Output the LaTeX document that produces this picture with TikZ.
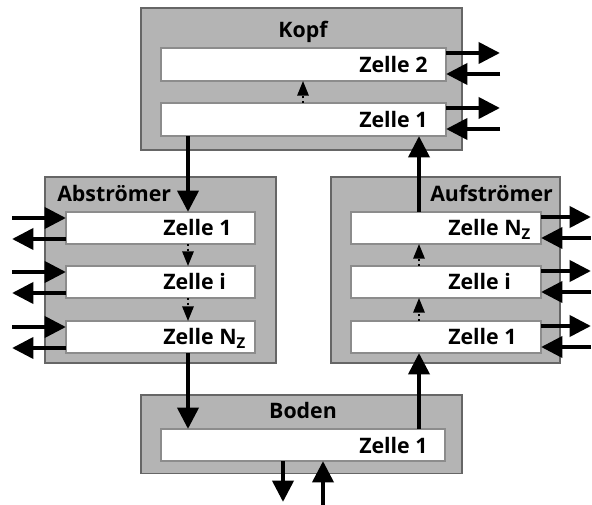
\documentclass[tikz,border=0pt]{standalone}
\usepackage{fontspec}
\setmainfont{Open Sans}
\usetikzlibrary{arrows.meta,calc}
\definecolor{grp}{RGB}{180,180,180}
\begin{document}
\begin{tikzpicture}[x=0.75pt,y=-0.75pt,
  grpbox/.style={draw=black!60, line width=0.8pt, fill=grp, rectangle, anchor=north west, inner sep=0pt, outer sep=0pt},
  cell/.style={draw=black!45, line width=0.9pt, fill=white, rectangle, anchor=north west, inner sep=0pt, outer sep=0pt, minimum height=24pt},
  lab/.style={font=\fontsize{16}{18}\selectfont\bfseries, inner sep=0pt, anchor=base west},
  ttl/.style={font=\fontsize{16}{18}\selectfont\bfseries, inner sep=0pt},
  flow/.style={line width=3.5pt, -{Triangle[length=16pt,width=15.5pt]}},
  inner/.style={line width=1.5pt, dash pattern=on 1.5pt off 2pt, -{Triangle[length=11pt,width=8.5pt]}}]
\useasboundingbox (0,0) rectangle (592,505);
% group boxes
\node[grpbox, minimum width=240.75pt, minimum height=106.5pt] (kopf) at (141,8) {};
\node[grpbox, minimum width=173.25pt, minimum height=139.5pt] (ab) at (45,177) {};
\node[grpbox, minimum width=171.75pt, minimum height=139.5pt] (auf) at (331,177) {};
\node[grpbox, minimum width=240.75pt, minimum height=59pt] (boden) at (141,395) {};
% titles
\node[ttl, anchor=base] (tk) at (303,38) {Kopf};
\node[ttl, anchor=base west] (tab) at (57,202) {Abströmer};
\node[ttl, anchor=base west] (tau) at (430,202) {Aufströmer};
\node[ttl, anchor=base] (tb) at (303,419) {Boden};
% cells
\node[cell, minimum width=213.75pt, minimum height=24.75pt] (k2) at (161,48) {};
\node[cell, minimum width=213.75pt, minimum height=24.75pt] (k1) at (161,103) {};
\node[cell, minimum width=141.75pt] (a1) at (66,212) {};
\node[cell, minimum width=141.75pt] (a2) at (66,266) {};
\node[cell, minimum width=141.75pt] (a3) at (66,321) {};
\node[cell, minimum width=142.5pt] (u3) at (351,212) {};
\node[cell, minimum width=142.5pt] (u2) at (351,266) {};
\node[cell, minimum width=142.5pt] (u1) at (351,321) {};
\node[cell, minimum width=213pt] (b1) at (161,429) {};
% cell labels
\node[lab] (k2l) at ($(k2.south west)+(198,-8)$) {Zelle 2};
\node[lab] (k1l) at ($(k1.south west)+(198,-8)$) {Zelle 1};
\node[lab] (a1l) at ($(a1.south west)+(97,-8)$) {Zelle 1};
\node[lab] (a2l) at ($(a2.south west)+(97,-8)$) {Zelle i};
\node[lab] (a3l) at ($(a3.south west)+(97,-8)$) {Zelle N\textsubscript{Z}};
\node[lab] (u3l) at ($(u3.south west)+(97,-8)$) {Zelle N\textsubscript{Z}};
\node[lab] (u2l) at ($(u2.south west)+(97,-8)$) {Zelle i};
\node[lab] (u1l) at ($(u1.south west)+(97,-8)$) {Zelle 1};
\node[lab] (b1l) at ($(b1.south west)+(198,-8)$) {Zelle 1};
% reference coordinates
\coordinate (xL) at (188,0);
\coordinate (xR) at (419,0);
\coordinate (xM) at (303,0);
\coordinate (bo) at (283,502);
\coordinate (bi) at (323,505);
% main flows
\draw[flow] (k1.south -| xL) -- (a1.north -| xL);
\draw[flow] (a3.south -| xL) -- (b1.north -| xL);
\draw[flow] (b1.north -| xR) -- (u1.south -| xR);
\draw[flow] (u3.north -| xR) -- (k1.south -| xR);
\draw[flow] (b1.south -| bo) -- (bo);
\draw[flow] (bi) -- (b1.south -| bi);
% internal flows
\draw[inner] (k1.north -| xM) -- (k2.south -| xM);
\draw[inner] (a1.south -| xL) -- (a2.north -| xL);
\draw[inner] (a2.south -| xL) -- (a3.north -| xL);
\draw[inner] (u1.north -| xR) -- (u2.south -| xR);
\draw[inner] (u2.north -| xR) -- (u3.south -| xR);
% side streams
\foreach \c in {a1,a2,a3}{
  \draw[flow] ($(\c.north west)+(-54,6)$) -- ($(\c.north west)+(0,6)$);
  \draw[flow] ($(\c.south west)+(0,-5)$) -- ($(\c.south west)+(-54,-5)$);
}
\foreach \c in {k1,k2}{
  \draw[flow] ($(\c.north east)+(0,5)$) -- ($(\c.north east)+(54,5)$);
  \draw[flow] ($(\c.south east)+(54,-7)$) -- ($(\c.south east)+(0,-7)$);
}
\foreach \c in {u1,u2,u3}{
  \draw[flow] ($(\c.north east)+(0,5)$) -- ($(\c.north east)+(50,5)$);
  \draw[flow] ($(\c.south east)+(50,-6)$) -- ($(\c.south east)+(0,-6)$);
}
\end{tikzpicture}
\end{document}
